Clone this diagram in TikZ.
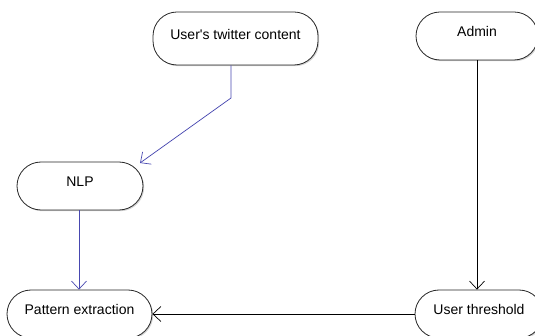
\documentclass[tikz,border=0pt]{standalone}
\usepackage{fontspec}
\setmainfont{Liberation Sans}
\usetikzlibrary{arrows.meta,shadows}
\definecolor{flowblue}{RGB}{72,72,176}
\begin{document}
\begin{tikzpicture}[x=1pt,y=-1pt,
  state/.style={draw=black!85, line width=0.8pt, fill=white, rounded corners=24pt,
    font=\fontsize{14}{16}\selectfont, inner sep=0pt, text height=10pt, text depth=8pt,
    drop shadow={shadow xshift=1.2pt, shadow yshift=-1.2pt, opacity=0.35}},
  flow/.style={line width=0.7pt, -{Straight Barb[length=8pt,width=15pt,line width=0.7pt]}},
]
\useasboundingbox (0,0) rectangle (535,336);
\clip (0,0) rectangle (535,336);
\node[state, minimum width=165pt, minimum height=53pt] (twit) at (235.5,38.5) {User\textquotesingle s twitter content};
\node[state, minimum width=122pt, minimum height=48pt] (admin) at (477,36) {Admin};
\node[state, minimum width=126pt, minimum height=48pt] (nlp) at (80,186) {NLP};
\node[state, minimum width=145pt, minimum height=48pt] (pat) at (79.5,314) {Pattern extraction};
\node[state, minimum width=128pt, minimum height=48pt] (thr) at (479,314) {User threshold};
\coordinate (bend) at (231,98);
\draw[flow, draw=flowblue] (twit.south -| bend) -- (bend) -- (140,163);
\draw[flow, draw=flowblue] (nlp.south -| 79,0) -- (pat.north -| 79,0);
\draw[flow] (admin.south) -- (thr.north -| admin.south);
\draw[flow] (thr.west) -- (pat.east);
\end{tikzpicture}
\end{document}
